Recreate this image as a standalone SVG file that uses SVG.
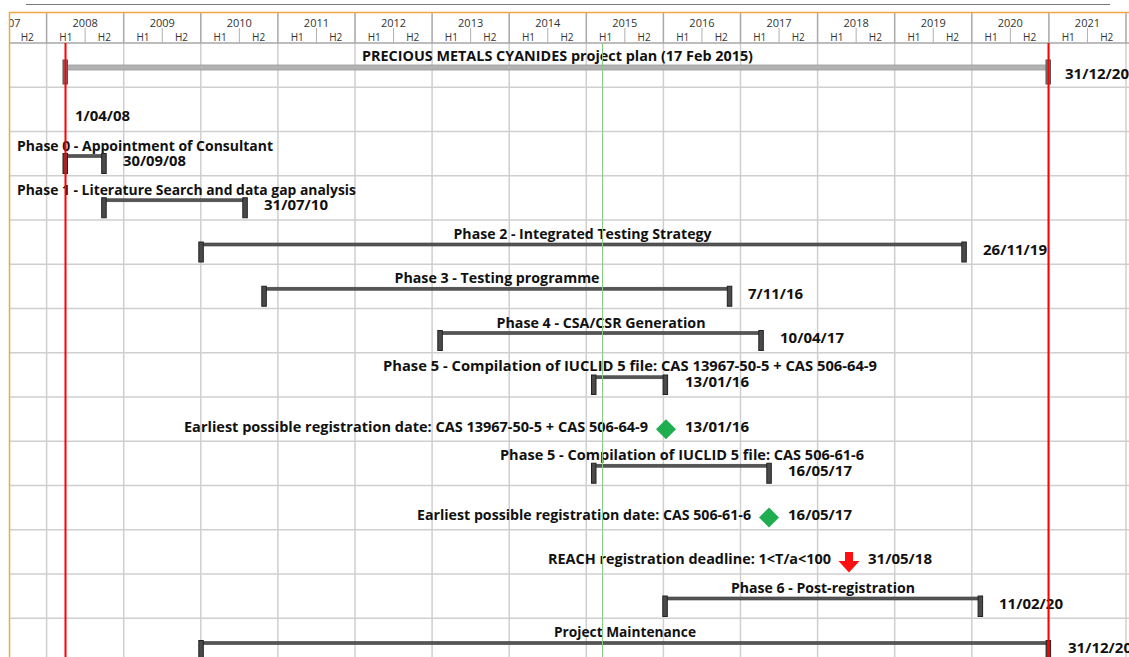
<svg xmlns="http://www.w3.org/2000/svg" width="1129" height="657" viewBox="0 0 1129 657">
<style>
.yr{font-family:"Open Sans","Noto Sans",sans-serif;font-size:11px;fill:#333;text-anchor:middle}
.hh{font-family:"Open Sans","Noto Sans",sans-serif;font-size:10px;fill:#333;text-anchor:middle}
.lb{font-family:"Open Sans","Noto Sans",sans-serif;font-size:14px;font-weight:bold;fill:#111}
.c{text-anchor:middle}
.e{text-anchor:end}
.gl{stroke:#cfcfcf;stroke-width:1.5;fill:none}
.hl{stroke:#a8a8a8;stroke-width:1.5;fill:none}
.hd{stroke:#b0b0b0;stroke-width:1;fill:none}
.bar{fill:#555;stroke:#3c3c3c;stroke-width:0.6}
.cap{fill:#4a4a4a;stroke:#222;stroke-width:1}
.dia{fill:#1eae50}
</style>
<defs>
<clipPath id="clip"><rect x="9" y="12" width="1120" height="645"/></clipPath>
</defs>
<rect x="0" y="0" width="1129" height="657" fill="#fff"/>
<line x1="26" y1="4.5" x2="1110" y2="4.5" stroke="#7a7a7a" stroke-width="1"/>
<g id="grid" clip-path="url(#clip)">
<g class="gl">
<path d="M9 87.25H1129M9 131.5H1129M9 175.75H1129M9 220H1129M9 264.25H1129M9 308.5H1129M9 352.75H1129M9 397H1129M9 441.25H1129M9 485.5H1129M9 529.75H1129M9 574H1129M9 618.25H1129"/>
<path d="M46.6 43V657M123.7 43V657M200.8 43V657M277.9 43V657M355 43V657M432.1 43V657M509.2 43V657M586.3 43V657M663.4 43V657M740.5 43V657M817.6 43V657M894.7 43V657M971.8 43V657M1048.9 43V657M1126 43V657"/>
</g>
<path class="hl" d="M46.6 12V43M123.7 12V43M200.8 12V43M277.9 12V43M355 12V43M432.1 12V43M509.2 12V43M586.3 12V43M663.4 12V43M740.5 12V43M817.6 12V43M894.7 12V43M971.8 12V43M1048.9 12V43M1126 12V43M9 43H1129"/>
<path class="hd" d="M8 28V43M85.15 28V43M162.25 28V43M239.35 28V43M316.45 28V43M393.55 28V43M470.65 28V43M547.75 28V43M624.85 28V43M701.95 28V43M779.05 28V43M856.15 28V43M933.25 28V43M1010.35 28V43M1087.45 28V43"/>
<g id="years">
<text class="yr" x="8.05" y="26.5">2007</text>
<text class="yr" x="85.15" y="26.5">2008</text>
<text class="yr" x="162.25" y="26.5">2009</text>
<text class="yr" x="239.35" y="26.5">2010</text>
<text class="yr" x="316.45" y="26.5">2011</text>
<text class="yr" x="393.55" y="26.5">2012</text>
<text class="yr" x="470.65" y="26.5">2013</text>
<text class="yr" x="547.75" y="26.5">2014</text>
<text class="yr" x="624.85" y="26.5">2015</text>
<text class="yr" x="701.95" y="26.5">2016</text>
<text class="yr" x="779.05" y="26.5">2017</text>
<text class="yr" x="856.15" y="26.5">2018</text>
<text class="yr" x="933.25" y="26.5">2019</text>
<text class="yr" x="1010.35" y="26.5">2020</text>
<text class="yr" x="1087.45" y="26.5">2021</text>
</g>
<g id="halves">
<text class="hh" x="27.3" y="40.5">H2</text>
<text class="hh" x="65.9" y="40.5">H1</text><text class="hh" x="104.4" y="40.5">H2</text>
<text class="hh" x="143" y="40.5">H1</text><text class="hh" x="181.5" y="40.5">H2</text>
<text class="hh" x="220.1" y="40.5">H1</text><text class="hh" x="258.6" y="40.5">H2</text>
<text class="hh" x="297.2" y="40.5">H1</text><text class="hh" x="335.7" y="40.5">H2</text>
<text class="hh" x="374.3" y="40.5">H1</text><text class="hh" x="412.8" y="40.5">H2</text>
<text class="hh" x="451.4" y="40.5">H1</text><text class="hh" x="489.9" y="40.5">H2</text>
<text class="hh" x="528.5" y="40.5">H1</text><text class="hh" x="567" y="40.5">H2</text>
<text class="hh" x="605.6" y="40.5">H1</text><text class="hh" x="644.1" y="40.5">H2</text>
<text class="hh" x="682.7" y="40.5">H1</text><text class="hh" x="721.2" y="40.5">H2</text>
<text class="hh" x="759.8" y="40.5">H1</text><text class="hh" x="798.3" y="40.5">H2</text>
<text class="hh" x="836.9" y="40.5">H1</text><text class="hh" x="875.4" y="40.5">H2</text>
<text class="hh" x="914" y="40.5">H1</text><text class="hh" x="952.5" y="40.5">H2</text>
<text class="hh" x="991.1" y="40.5">H1</text><text class="hh" x="1029.6" y="40.5">H2</text>
<text class="hh" x="1068.2" y="40.5">H1</text><text class="hh" x="1106.7" y="40.5">H2</text>
</g>
</g>
<path d="M9 12.5H1129M9.5 12V657" stroke="#f4a645" stroke-width="1.5" fill="none"/>

<g id="project">
<text class="lb c" x="557.5" y="61" textLength="391" lengthAdjust="spacingAndGlyphs">PRECIOUS METALS CYANIDES project plan (17 Feb 2015)</text>
<rect x="65" y="65" width="983" height="5" fill="#b2b2b2" stroke="#9a9a9a" stroke-width="0.8"/>
<rect x="63" y="60" width="4.5" height="24" fill="#777" stroke="#555" stroke-width="1"/>
<rect x="1046" y="60" width="4.5" height="24" fill="#777" stroke="#555" stroke-width="1"/>
<text class="lb" x="1065" y="79" textLength="64" lengthAdjust="spacingAndGlyphs">31/12/20</text>
<text class="lb" x="75" y="121.3" textLength="55" lengthAdjust="spacingAndGlyphs">1/04/08</text>
</g>

<g id="phase0">
<text class="lb" x="17" y="150.5" textLength="256" lengthAdjust="spacingAndGlyphs">Phase 0 - Appointment of Consultant</text>
<rect class="bar" x="65" y="154.5" width="39" height="3"/>
<rect class="cap" x="63" y="153.5" width="4.5" height="20"/>
<rect class="cap" x="101.7" y="153.5" width="4.5" height="20"/>
<text class="lb" x="123" y="166" textLength="63" lengthAdjust="spacingAndGlyphs">30/09/08</text>
</g>

<g id="phase1">
<text class="lb" x="17" y="194.75" textLength="339" lengthAdjust="spacingAndGlyphs">Phase 1 - Literature Search and data gap analysis</text>
<rect class="bar" x="104" y="198.75" width="141" height="3"/>
<rect class="cap" x="101.7" y="197.75" width="4.5" height="20"/>
<rect class="cap" x="242.8" y="197.75" width="4.5" height="20"/>
<text class="lb" x="264" y="210.25" textLength="64" lengthAdjust="spacingAndGlyphs">31/07/10</text>
</g>

<g id="phase2">
<text class="lb c" x="582.5" y="239" textLength="258" lengthAdjust="spacingAndGlyphs">Phase 2 - Integrated Testing Strategy</text>
<rect class="bar" x="201" y="243" width="763" height="3"/>
<rect class="cap" x="198.8" y="242" width="4.5" height="20"/>
<rect class="cap" x="961.8" y="242" width="4.5" height="20"/>
<text class="lb" x="983" y="254.5" textLength="64" lengthAdjust="spacingAndGlyphs">26/11/19</text>
</g>

<g id="phase3">
<text class="lb c" x="497" y="283.25" textLength="205" lengthAdjust="spacingAndGlyphs">Phase 3 - Testing programme</text>
<rect class="bar" x="264" y="287.25" width="465.5" height="3"/>
<rect class="cap" x="261.8" y="286.25" width="4.5" height="20"/>
<rect class="cap" x="727.3" y="286.25" width="4.5" height="20"/>
<text class="lb" x="748" y="298.75" textLength="55" lengthAdjust="spacingAndGlyphs">7/11/16</text>
</g>

<g id="phase4">
<text class="lb c" x="601" y="327.5" textLength="209" lengthAdjust="spacingAndGlyphs">Phase 4 - CSA/CSR Generation</text>
<rect class="bar" x="440" y="331.5" width="321" height="3"/>
<rect class="cap" x="437.8" y="330.5" width="4.5" height="20"/>
<rect class="cap" x="758.8" y="330.5" width="4.5" height="20"/>
<text class="lb" x="780" y="343" textLength="64" lengthAdjust="spacingAndGlyphs">10/04/17</text>
</g>

<g id="phase5a">
<text class="lb c" x="630" y="371" textLength="494" lengthAdjust="spacingAndGlyphs">Phase 5 - Compilation of IUCLID 5 file: CAS 13967-50-5 + CAS 506-64-9</text>
<rect class="bar" x="593.7" y="375.75" width="71.6" height="3"/>
<rect class="cap" x="591.5" y="375" width="4.5" height="19.5"/>
<rect class="cap" x="663.1" y="375" width="4.5" height="19.5"/>
<text class="lb" x="685" y="387" textLength="64" lengthAdjust="spacingAndGlyphs">13/01/16</text>
</g>

<g id="milestone1">
<text class="lb e" x="648" y="431.5" textLength="464" lengthAdjust="spacingAndGlyphs">Earliest possible registration date: CAS 13967-50-5 + CAS 506-64-9</text>
<polygon class="dia" points="666,419.3 676,429.3 666,439.3 656,429.3"/>
<text class="lb" x="685" y="431.5" textLength="64" lengthAdjust="spacingAndGlyphs">13/01/16</text>
</g>

<g id="phase5b">
<text class="lb c" x="682" y="460.25" textLength="364" lengthAdjust="spacingAndGlyphs">Phase 5 - Compilation of IUCLID 5 file: CAS 506-61-6</text>
<rect class="bar" x="593.7" y="464.25" width="175.3" height="3"/>
<rect class="cap" x="591.5" y="463.25" width="4.5" height="20"/>
<rect class="cap" x="766.8" y="463.25" width="4.5" height="20"/>
<text class="lb" x="788" y="475.75" textLength="64" lengthAdjust="spacingAndGlyphs">16/05/17</text>
</g>

<g id="milestone2">
<text class="lb e" x="751" y="520" textLength="334" lengthAdjust="spacingAndGlyphs">Earliest possible registration date: CAS 506-61-6</text>
<polygon class="dia" points="769,507.5 779,517.5 769,527.5 759,517.5"/>
<text class="lb" x="788" y="520" textLength="64" lengthAdjust="spacingAndGlyphs">16/05/17</text>
</g>

<g id="deadline">
<text class="lb e" x="831" y="564.25" textLength="283" lengthAdjust="spacingAndGlyphs">REACH registration deadline: 1&lt;T/a&lt;100</text>
<polygon points="845,552 853,552 853,561 859.5,561 849,572.5 838.5,561 845,561" fill="#ff1010"/>
<text class="lb" x="868" y="564.25" textLength="64" lengthAdjust="spacingAndGlyphs">31/05/18</text>
</g>

<g id="phase6">
<text class="lb c" x="823" y="593" textLength="184" lengthAdjust="spacingAndGlyphs">Phase 6 - Post-registration</text>
<rect class="bar" x="665" y="597" width="315.3" height="3"/>
<rect class="cap" x="662.8" y="596" width="4.5" height="20.5"/>
<rect class="cap" x="978.1" y="596" width="4.5" height="20.5"/>
<text class="lb" x="999" y="608.5" textLength="64" lengthAdjust="spacingAndGlyphs">11/02/20</text>
</g>

<g id="maintenance">
<text class="lb c" x="625" y="637.25" textLength="142" lengthAdjust="spacingAndGlyphs">Project Maintenance</text>
<rect class="bar" x="201" y="641.5" width="847.3" height="3"/>
<rect class="cap" x="198.8" y="640.5" width="4.5" height="20"/>
<rect class="cap" x="1046.1" y="640.5" width="4.5" height="20"/>
<text class="lb" x="1068" y="652.75" textLength="64" lengthAdjust="spacingAndGlyphs">31/12/20</text>
</g>

<g id="connectors">
<line x1="65.5" y1="43" x2="65.5" y2="657" stroke="#ff0000" stroke-width="2"/>
<line x1="1048.5" y1="43" x2="1048.5" y2="657" stroke="#ff0000" stroke-width="2"/>
<line x1="602.5" y1="43" x2="602.5" y2="657" stroke="#86cc86" stroke-width="1"/>
</g>
</svg>
